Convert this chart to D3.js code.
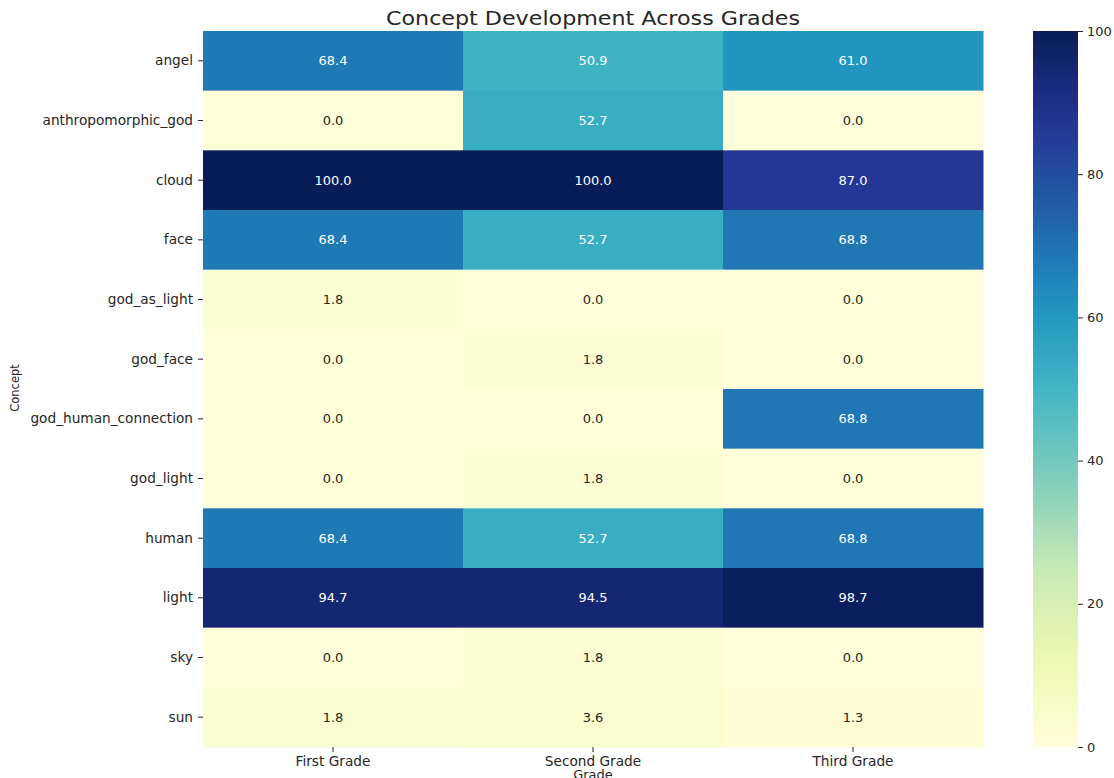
<!DOCTYPE html>
<meta charset="utf-8" />
<style>
    body { margin: 0; background: #fff; }
    text { font-family: "DejaVu Sans", sans-serif; fill: #262626; }
</style>
<svg width="1114" height="778"></svg>
<script src="https://d3js.org/d3.v7.min.js"></script>
<script>
    // data
    var concepts = ["angel", "anthropomorphic_god", "cloud", "face", "god_as_light", "god_face",
        "god_human_connection", "god_light", "human", "light", "sky", "sun"];
    var grades = ["First Grade", "Second Grade", "Third Grade"];
    var firstGrade = [68.4, 0.0, 100.0, 68.4, 1.8, 0.0, 0.0, 0.0, 68.4, 94.7, 0.0, 1.8];
    var secondGrade = [50.9, 52.7, 100.0, 52.7, 0.0, 1.8, 0.0, 1.8, 52.7, 94.5, 1.8, 3.6];
    var thirdGrade = [61.0, 0.0, 87.0, 68.8, 0.0, 0.0, 68.8, 0.0, 68.8, 98.7, 0.0, 1.3];
    var colorTicks = [0, 20, 40, 60, 80, 100];

    var series = [firstGrade, secondGrade, thirdGrade];
    var cells = [];
    concepts.forEach(function (c, i) {
        grades.forEach(function (g, j) {
            cells.push({ concept: c, grade: g, value: series[j][i] });
        });
    });

    var svg = d3.select("svg");
    var margin = { left: 203, top: 31 };
    var width = 780, height = 716;

    // YlGnBu like matplotlib
    var ylgnbu = ["#ffffd9", "#edf8b1", "#c7e9b4", "#7fcdbb", "#41b6c4", "#1d91c0", "#225ea8", "#253494", "#081d58"];
    var color = d3.scaleLinear()
        .domain(d3.range(9).map(function (i) { return i * 100 / 8; }))
        .range(ylgnbu)
        .interpolate(d3.interpolateRgb);

    function lum(c) {
        var rgb = d3.rgb(c);
        var f = function (v) {
            v = v / 255;
            return v <= 0.03928 ? v / 12.92 : Math.pow((v + 0.055) / 1.055, 2.4);
        };
        return 0.2126 * f(rgb.r) + 0.7152 * f(rgb.g) + 0.0722 * f(rgb.b);
    }

    var x = d3.scaleBand().domain(grades).range([0, width]);
    var y = d3.scaleBand().domain(concepts).range([0, height]);

    var g = svg.append("g").attr("transform", "translate(" + margin.left + "," + margin.top + ")");

    g.selectAll("rect")
        .data(cells)
        .enter()
        .append("rect")
        .attr("x", function (d) { return x(d.grade); })
        .attr("y", function (d) { return y(d.concept); })
        .attr("width", x.bandwidth() + 0.5)
        .attr("height", y.bandwidth() + 0.5)
        .attr("fill", function (d) { return color(d.value); });

    g.selectAll("text.annot")
        .data(cells)
        .enter()
        .append("text")
        .attr("class", "annot")
        .attr("x", function (d) { return x(d.grade) + x.bandwidth() / 2; })
        .attr("y", function (d) { return y(d.concept) + y.bandwidth() / 2; })
        .attr("dy", "0.35em")
        .attr("text-anchor", "middle")
        .style("font-size", "13px")
        .style("fill", function (d) { return lum(color(d.value)) > 0.408 ? "#262626" : "#ffffff"; })
        .text(function (d) { return d.value.toFixed(1); });

    // axes
    var yAxis = g.append("g").call(d3.axisLeft(y).tickSize(5).tickPadding(5));
    var xAxis = g.append("g").attr("transform", "translate(0," + height + ")")
        .call(d3.axisBottom(x).tickSize(5).tickPadding(4));
    [xAxis, yAxis].forEach(function (a) {
        a.select(".domain").remove();
        a.selectAll("line").attr("stroke", "#262626");
        a.selectAll("text").style("font-size", "13.7px").attr("fill", "#262626");
    });

    // titles
    svg.append("text")
        .attr("x", margin.left + width / 2)
        .attr("y", 25)
        .attr("text-anchor", "middle")
        .attr("textLength", 414)
        .attr("lengthAdjust", "spacingAndGlyphs")
        .style("font-size", "19px")
        .text("Concept Development Across Grades");

    svg.append("text")
        .attr("x", margin.left + width / 2)
        .attr("y", 779)
        .attr("text-anchor", "middle")
        .style("font-size", "13px")
        .text("Grade");

    svg.append("text")
        .attr("transform", "translate(19," + (margin.top + height / 2 - 1) + ") rotate(-90)")
        .attr("text-anchor", "middle")
        .style("font-size", "11.5px")
        .text("Concept");

    // colorbar
    var cbX = 1033, cbW = 45;
    var cScale = d3.scaleLinear().domain([0, 100]).range([margin.top + height, margin.top]);
    var defs = svg.append("defs");
    var grad = defs.append("linearGradient").attr("id", "cb")
        .attr("x1", 0).attr("y1", 1).attr("x2", 0).attr("y2", 0);
    grad.selectAll("stop")
        .data(d3.range(0, 101, 5))
        .enter()
        .append("stop")
        .attr("offset", function (d) { return d + "%"; })
        .attr("stop-color", function (d) { return color(d); });
    svg.append("rect")
        .attr("x", cbX).attr("y", margin.top)
        .attr("width", cbW).attr("height", height)
        .attr("fill", "url(#cb)");
    var cAxis = svg.append("g").attr("transform", "translate(" + (cbX + cbW) + ",0)")
        .call(d3.axisRight(cScale).tickValues(colorTicks).tickSize(5).tickPadding(4));
    cAxis.select(".domain").remove();
    cAxis.selectAll("line").attr("stroke", "#262626");
    cAxis.selectAll("text").style("font-size", "13px").attr("fill", "#262626");
</script>
